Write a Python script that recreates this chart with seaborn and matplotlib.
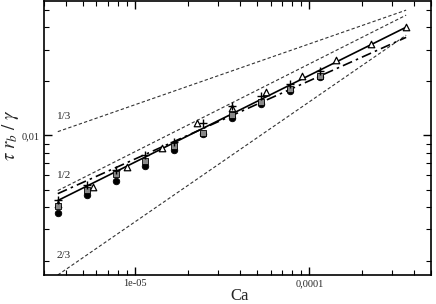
import numpy as np
import pandas as pd
import matplotlib
matplotlib.use("Agg")
import matplotlib.pyplot as plt
import matplotlib.ticker as mticker
import seaborn as sns

# ---- data ----
ca_group = [3.6e-6, 5.3e-6, 7.8e-6, 1.14e-5, 1.67e-5, 2.45e-5, 3.6e-5, 5.3e-5, 7.8e-5, 1.15e-4]
tau_circle = [0.00371, 0.00463, 0.00561, 0.00680, 0.00825, 0.01013, 0.01245, 0.01490, 0.01762, 0.02110]
tau_square = [0.00406, 0.00499, 0.00613, 0.00725, 0.00868, 0.01026, 0.01294, 0.01529, 0.01807, 0.02137]
tau_plus = [0.00438, 0.00532, 0.00646, 0.00783, 0.00925, 0.01166, 0.01452, 0.01652, 0.01928, 0.02281]

ca_tri = [3.6e-6, 5.7e-6, 9.0e-6, 1.43e-5, 2.27e-5, 3.6e-5, 5.66e-5, 9.1e-5, 1.43e-4, 2.27e-4, 3.6e-4]
tau_tri = [0.00417, 0.00519, 0.00671, 0.00846, 0.01166, 0.01416, 0.01738, 0.02137, 0.02625, 0.03223, 0.04010]

line_ca = [3.6e-6, 3.6e-4]
ref_third = [0.0105, 0.0499]
ref_half = [0.00493, 0.0468]
ref_twothirds = [0.00167, 0.0362]
fit_solid = [0.00434, 0.0401]
fit_dashdot = [0.00474, 0.0352]

ref_labels = ["1/3", "1/2", "2/3"]
ref_label_pos = [(3.55e-6, 0.0128), (3.55e-6, 0.00595), (3.55e-6, 0.00215)]

x_tick_vals = [1e-5, 1e-4]
x_tick_labels = ["1e-05", "0,0001"]
y_tick_vals = [0.01]
y_tick_labels = ["0,01"]

# ---- styling ----
sns.set_style("ticks")
plt.rcParams["font.family"] = ["Liberation Serif", "DejaVu Serif"]
plt.rcParams["mathtext.fontset"] = "stix"

fig = plt.figure(figsize=(4.36, 3.04), dpi=100)
ax = fig.add_axes([44 / 436, 1 - 275 / 304, 387 / 436, 274 / 304])
ax.set_xscale("log")
ax.set_yscale("log")

def line(xs, ys, **kw):
    df = pd.DataFrame({"x": xs, "y": ys})
    sns.lineplot(data=df, x="x", y="y", ax=ax, sort=False, legend=False, **kw)

dash_kw = dict(color="#333333", linewidth=0.8, linestyle=(0, (3.0, 2.0)))
line(line_ca, ref_third, **dash_kw)
line(line_ca, ref_half, **dash_kw)
line(line_ca, ref_twothirds, **dash_kw)
line(line_ca, fit_solid, color="black", linewidth=1.2)
line(line_ca, fit_dashdot, color="black", linewidth=1.2, linestyle=(0, (6, 2.5, 1.5, 2.5)))

sns.scatterplot(x=ca_group, y=tau_circle, ax=ax, marker="o", s=22, color="black",
                edgecolor="black", linewidth=0.6, zorder=3)
sns.scatterplot(x=ca_tri, y=tau_tri, ax=ax, marker="^", s=22, facecolor="white",
                edgecolor="black", linewidth=0.9, zorder=4)
sns.scatterplot(x=ca_group, y=tau_square, ax=ax, marker="s", s=18, color="#888888",
                edgecolor="black", linewidth=0.6, zorder=5)
sns.scatterplot(x=ca_group, y=tau_plus, ax=ax, marker="+", s=28, color="black",
                linewidth=1.0, zorder=6)

for lab, (lx, ly) in zip(ref_labels, ref_label_pos):
    ax.text(lx, ly, lab, fontsize=8, ha="left", va="center")

ax.set_xlim(3.0e-6, 5.0e-4)
ax.set_ylim(0.00167, 0.0561)

ax.xaxis.set_major_locator(mticker.FixedLocator(x_tick_vals))
ax.xaxis.set_major_formatter(mticker.FixedFormatter(x_tick_labels))
ax.yaxis.set_major_locator(mticker.FixedLocator(y_tick_vals))
ax.yaxis.set_major_formatter(mticker.FixedFormatter(y_tick_labels))
ax.xaxis.set_minor_locator(mticker.LogLocator(base=10, subs=np.arange(2, 10)))
ax.yaxis.set_minor_locator(mticker.LogLocator(base=10, subs=np.arange(2, 10)))
ax.xaxis.set_minor_formatter(mticker.NullFormatter())
ax.yaxis.set_minor_formatter(mticker.NullFormatter())

ax.tick_params(which="both", direction="in", top=True, right=True, color="black",
               labelsize=7.5, pad=3)
ax.tick_params(which="major", length=6, width=1.0)
ax.tick_params(which="minor", length=3.6, width=0.8)
for sp in ax.spines.values():
    sp.set_linewidth(1.2)
    sp.set_color("black")

ax.set_xlabel("Ca", fontsize=12)
ax.xaxis.set_label_coords(0.506, -0.048)
ax.set_ylabel(r"$\tau\ r_b\ /\ \gamma$", fontsize=13.5)
ax.yaxis.set_label_coords(-0.060, 0.51)

fig.savefig("out.png", dpi=100)
